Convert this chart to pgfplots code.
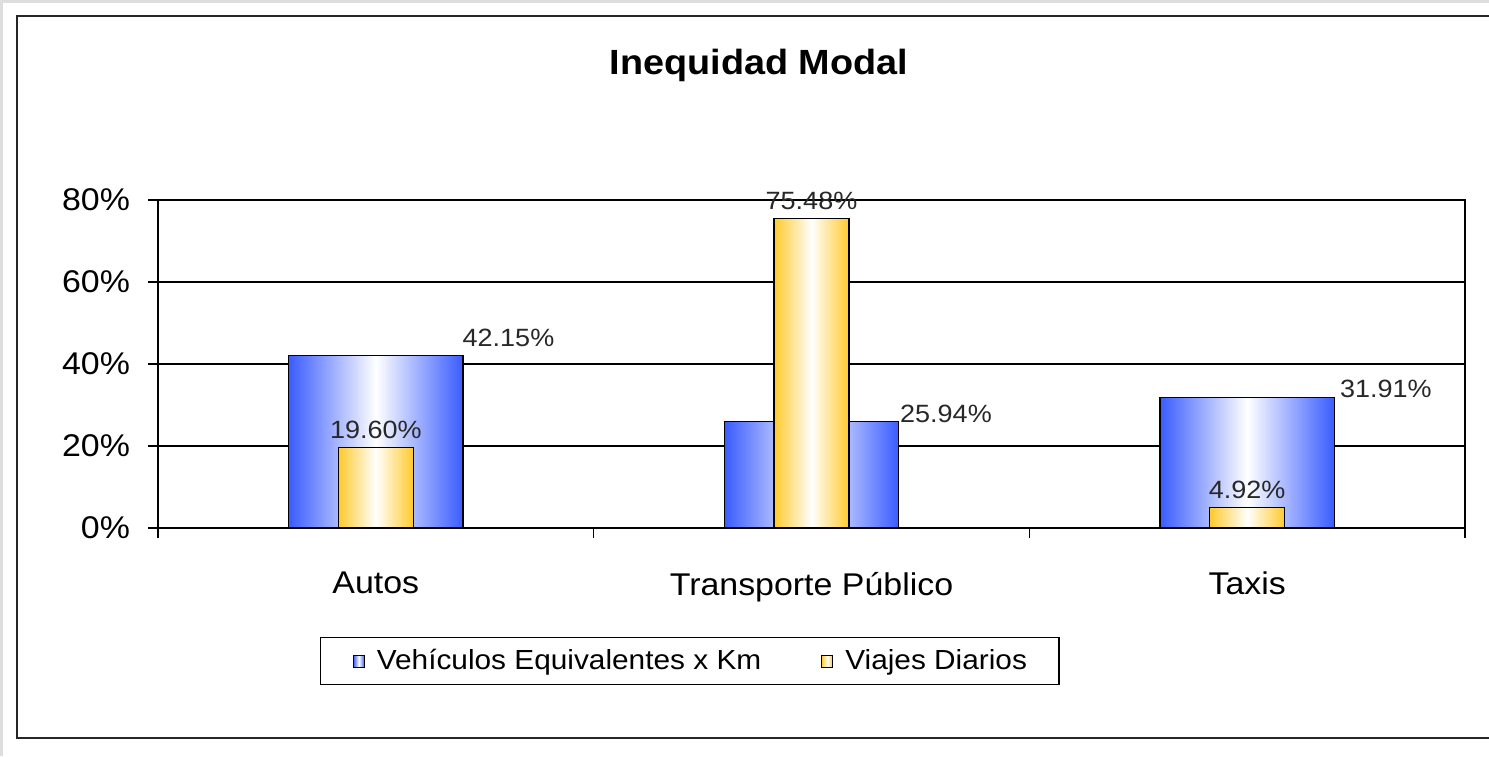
\documentclass[border=0pt]{standalone}
\usepackage{fontspec}
\setmainfont{Liberation Sans}[FakeStretch=1.08]
\usepackage{pgfplots}
\pgfplotsset{compat=1.18}
\definecolor{barblue}{RGB}{58,92,255}
\definecolor{baryel}{RGB}{255,202,45}
\definecolor{bggray}{RGB}{222,222,222}
\definecolor{labgray}{RGB}{40,40,40}
\pgfplotsset{
  bluebar/.style={ybar, bar width=0.4, bar shift=0pt, draw=black, line width=0.6pt,
    left color=barblue, right color=barblue, middle color=white},
  yelbar/.style={ybar, bar width=0.172, bar shift=0pt, draw=black, line width=0.6pt,
    left color=baryel, right color=baryel, middle color=white,
    nodes near coords={\pgfmathprintnumber[fixed,fixed zerofill,precision=2]{\pgfplotspointmeta}\%},
    every node near coord/.append style={anchor=base, yshift=4.5pt, font=\fontsize{12.5}{15}\selectfont, text=labgray}},
}
\begin{document}
\begin{tikzpicture}[x=1pt,y=1pt]
\path[use as bounding box, fill=bggray] (-79,-114) rectangle (665.5,264);
\fill[white] (-77.5,-114) rectangle (665.5,262.5);
\draw[black!85, line width=1.1pt] (670,-105) -- (-70.5,-105) -- (-70.5,256) -- (670,256);
\node[font=\bfseries\fontsize{17.5}{20}\selectfont] at (300.5,231.5) {Inequidad Modal};
\begin{axis}[
  at={(0,0)}, anchor=south west,
  scale only axis, width=653.5pt, height=164pt,
  xmin=-0.5, xmax=2.5, ymin=0, ymax=80,
  axis line style={black, line width=0.6pt},
  xtick={0,1,2}, xticklabels={Autos, Transporte Público, Taxis},
  minor xtick={-0.5,0.5,1.5,2.5},
  ytick={0,20,40,60,80},
  yticklabel={\pgfmathprintnumber{\tick}\%},
  /pgf/number format/assume math mode=true,
  ymajorgrids, grid style={black, line width=0.6pt},
  tick align=outside, tick pos=left,
  major tick length=5pt, minor tick length=5pt,
  major x tick style={draw=none},
  tick style={black, line width=0.6pt},
  ticklabel style={font=\fontsize{15.7}{18}\selectfont, text=black},
  yticklabel style={xshift=-5.5pt},
  xticklabel style={yshift=-13.5pt},
  legend style={at={(0.407,-0.4055)}, anchor=center, draw=black, line width=0.6pt,
    font=\fontsize{13.8}{16}\selectfont, legend columns=2,
    nodes={inner sep=0pt}, inner xsep=16pt, inner ysep=6pt,
    /tikz/every odd column/.append style={column sep=6pt},
    /tikz/every even column/.append style={column sep=30pt}},
  legend image code/.code={\draw[#1, draw=black, line width=0.5pt] (0pt,-3pt) rectangle (5.5pt,3pt);},
]
\addplot[bluebar] coordinates {(0,42.15)};
\addlegendentry{Vehículos Equivalentes x Km}
\addplot[bluebar, forget plot] coordinates {(1,25.94)};
\addplot[bluebar, forget plot] coordinates {(2,31.91)};
\addplot[yelbar] coordinates {(0,19.60)};
\addlegendentry{Viajes Diarios}
\addplot[yelbar, forget plot] coordinates {(1,75.48)};
\addplot[yelbar, forget plot] coordinates {(2,4.92)};
\node[anchor=base, font=\fontsize{12.5}{15}\selectfont, text=labgray] at (axis cs:0.3045,44.15) {42.15\%};
\node[anchor=base, font=\fontsize{12.5}{15}\selectfont, text=labgray] at (axis cs:1.3087,25.85) {25.94\%};
\node[anchor=base, font=\fontsize{12.5}{15}\selectfont, text=labgray] at (axis cs:2.3186,31.95) {31.91\%};
\end{axis}
\end{tikzpicture}
\end{document}
